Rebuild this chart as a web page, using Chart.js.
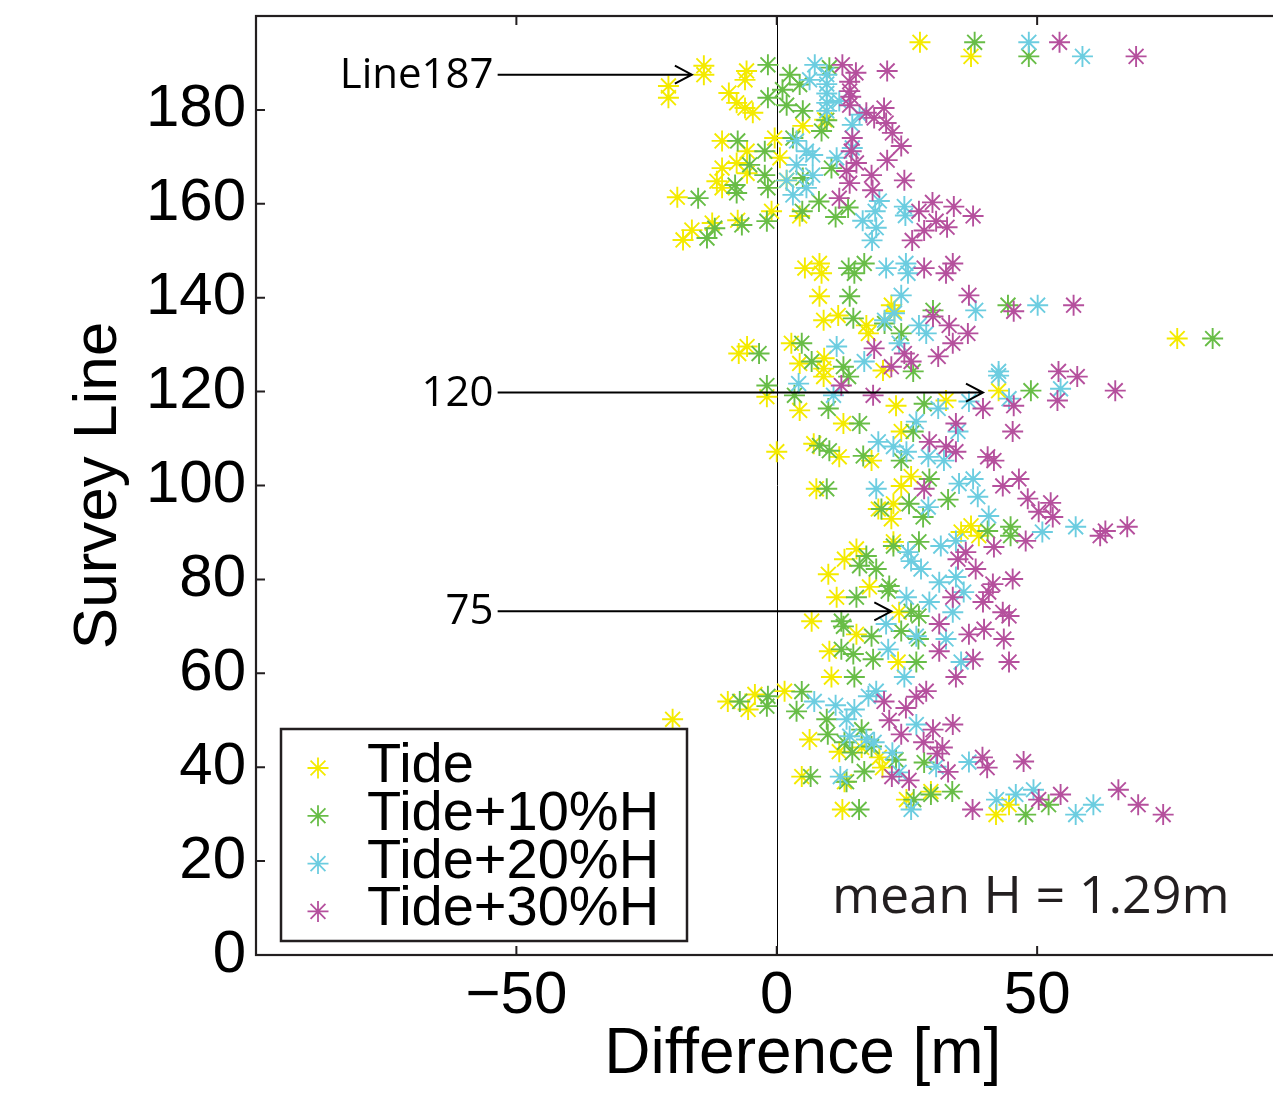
<!DOCTYPE html>
<html>
<head>
<meta charset="utf-8">
<script src="https://cdn.jsdelivr.net/npm/chart.js@4.4.0/dist/chart.umd.min.js"></script>
<style>
  html, body { margin: 0; padding: 0; background: #fff; overflow: hidden; }
  canvas { display: block; }
</style>
</head>
<body>
<canvas id="surveyChart" width="1362" height="1094"></canvas>
<script>
// Difference [m] vs survey line, one array per tide correction
const seriesNames = ['Tide', 'Tide+10%H', 'Tide+20%H', 'Tide+30%H'];
const seriesColors = ['#f4ea00', '#68bd47', '#6ccde0', '#b5509d'];

const tide = [
  [27.5,194.4],[37.3,191.4],
  [-14,189.4],[-14,187.5],[-20.8,185.1],[-20.8,182.6],
  [-5.8,188.3],[-6.1,186.4],[-9.2,183.6],[-7.7,181.5],[-6.1,180.4],[-4.6,179.4],
  [-10.5,173.4],[-0.4,174],[-5.7,171.2],[-7.7,168.7],[-10.5,167.6],[-5.7,166.5],[-11.5,164.8],[-10.5,163.4],
  [-19.1,161.4],[0.6,169.8],[-1,158.4],[-7.5,156.5],[-16.3,154.4],[-18,152.3],[-12.4,155.9],[1.9,165],
  [5,176.6],[4.4,157.4],[9.2,177.9],
  [5.4,146.3],[8.2,147.3],[8.6,145.2],[8.2,140.3],[9,135.2],[11.8,136.2],[17.2,134.1],[17.6,132.4],
  [22,138.4],[22.6,137.1],[2.8,130.3],[4.4,126],[9.1,127.1],[9,123.2],[9,124.9],[20.4,124.5],[4.4,116],
  [22.9,117],[32.5,118.1],[42.6,120.2],[12.8,113.2],[23.9,111.5],[7.1,108.9],[12,106.1],[18.2,105.3],
  [7.6,99.3],[23.9,99.9],[25.8,101.9],[76.9,131.3],[0,107.2],[-7.3,128.1],[-5.7,129.6],[-1.9,118.9],
  [19.5,95],[22,92.9],[22.4,96.1],[37.3,91.4],[35.4,90.1],[38.8,89.3],[22.4,88],[13,84.3],[15.3,86.5],
  [9.9,81.1],[17.8,78.4],[11.5,76.2],[23.5,73],[6.7,71.1],[15.3,68.3],[10.1,64.7],[23.3,62.4],[10.5,59.2],[1.5,56.2],
  [-9.4,54],[-4.2,55.5],[-5.5,52.3],[6.3,45.9],[12,43.3],[16.3,44.2],[19.7,42.1],[20.3,39.9],[4.8,38],
  [13,36.9],[29.6,34.8],[24.9,33.1],[12.6,31],[42.1,29.9],[44.6,32],[-20,50.2]
];

const tide10 = [
  [38,194.4],[48.4,191.4],
  [-1.7,189.6],[-1.7,182.6],[2.5,187.5],[4.4,185.4],[1.1,184.3],[1.9,181],[5,179.8],[10.1,189],[9.6,177.8],
  [8.6,175.5],[-7.5,173.4],[-2.3,171.2],[-5.2,168.3],[-2.3,166.1],[-8,164],[-7.7,162.3],[-1.7,163.4],
  [-15.1,161.2],[-11.9,154.8],[-13.4,152.7],[-6.7,155.5],[-1.9,156.3],[5,165.5],[4.9,158.4],[8.1,160.5],
  [11.3,157.2],[13.7,159.2],[3.1,174],[10.5,167.6],
  [13.8,146.3],[16.8,147.3],[14.9,145.2],[14,140.3],[14.7,135.6],[20.7,134.5],[23.9,132.4],[30,137.3],
  [44.4,138.4],[4.8,130.3],[6.7,126.4],[12.8,125.3],[13.8,123.2],[26.2,124.3],[3.4,119.2],[9.9,116.4],
  [28.3,117.4],[48.8,120.2],[15.9,113.2],[26.2,111.5],[8.2,108.5],[10.1,107.4],[16.6,106.3],[23.9,105.3],
  [9.6,99.3],[29.3,101.4],[32.9,97],[83.7,131.3],[-1.9,121.3],[-3.4,128.1],
  [20.1,95],[25.4,96.1],[28.1,93.3],[44.9,91.2],[44.9,89.3],[40.5,90.3],[22.4,87.1],[27.3,88],[17.2,85],
  [15.9,82.9],[19.1,82.2],[21.6,78.6],[21.4,77.5],[15.3,76.2],[25.8,73.2],[27.3,72.2],[12.4,71.1],[12.8,70],
  [18.2,67.9],[23.9,69],[27.2,67.3],[12.4,65.1],[14.7,64.1],[18.5,63],[26.8,62.4],[14.9,59.2],[4.8,56.1],
  [-7.1,54],[-1.7,55.1],[-1.9,53],[3.8,51.9],[9.6,50.2],[9.8,47],[16.3,48],[13,45.3],[14.5,43.1],[18.2,44.4],
  [22.9,41.6],[6.5,38],[13.4,36.9],[16.8,39.1],[28.3,41],[29.6,34.2],[33.7,34.8],[26.3,33.1],[15.8,31],
  [52.2,32],[47.8,29.9]
];

const tide20 = [
  [48.4,194.4],[58.7,191.4],
  [7.3,189.6],[9.6,187.5],[9.6,185.5],[9.6,183.5],[9.6,181.5],[9.6,179.8],[6.3,186.4],[12,181.9],[14.5,176.8],
  [3.8,173.4],[5.7,171.2],[6.9,170.4],[3.8,168.3],[11.5,169.8],[1.9,165],[3.1,161.9],[5.7,163.4],[6.9,166.1],
  [19.7,160.6],[24.5,159.4],[24.7,157.5],[18.9,158.4],[16.5,156.4],[19.1,154.9],[18.3,152.2],[14.5,171.9],[15.9,179],
  [21,146.3],[24.8,147.3],[25.2,145.2],[23.9,140.5],[38.2,137.3],[50.1,138.4],[20.7,135.2],[22.6,136.7],
  [27.3,134.1],[28.7,132.4],[11.5,129.6],[16.8,126.4],[23.5,130.3],[42.6,124.3],[42.6,123.4],[4.2,121.7],
  [10.9,119.2],[54.5,120.6],[44.6,118.5],[36.9,117.9],[31,116.4],[26.8,113.6],[34.8,111.5],[19.5,109.3],
  [22.4,108.3],[24.9,107.2],[29.1,106.1],[32.1,105.3],[19.1,99.3],[35,100.4],[37.7,101.4],[38.6,97.6],
  [29.1,95.4],[40.7,93.5],[51,90.1],[57.4,91.2],[31.5,87.1],[34.4,88.2],[25.2,85.8],[25.8,83.9],[27.7,82.2],
  [31.2,79.4],[34.4,80.5],[35.9,77.3],[24.9,76.2],[29.3,75.2],[33.8,73],[21,70.5],[26.8,67.9],[32.5,67.3],
  [21.4,65.1],[35.4,62.4],[24.5,59.2],
  [7.2,54],[11.3,53.2],[14.9,52.3],[17.6,55.1],[19.1,56.2],[13.4,50.2],[14,46.6],[17.2,45.9],[18.7,45.3],
  [26.8,49.1],[22.2,43.1],[23.5,38.9],[30.6,40.1],[36.9,41.1],[12.2,38],[25.8,31],[42.2,33.1],[57.4,29.9],
  [60.8,32],[49.3,35.2],[45.9,34.2]
];

const tide30 = [
  [54.3,194.4],[69,191.4],
  [12.6,189.6],[15.2,187.9],[21.2,188.3],[14,186],[14,184],[14.2,182.8],[14,181],[17.2,179.4],[18.7,178.3],
  [20.6,180.4],[21,177.2],[22.2,175.1],[23.9,172.3],[14.5,174],[14.3,171.2],[15.3,168.7],[13.4,167],[21.2,169.3],
  [18.2,166.1],[14,164.4],[18.4,162.9],[24.5,165],[12,161.2],[27.3,158.4],[29.9,160.3],[30.6,156.3],[34,159.4],
  [28.3,154.3],[26,152.2],[32.7,155],[37.7,157.4],
  [28.3,146.3],[33.8,147.3],[32.5,145.2],[36.9,140.5],[45.5,137.1],[57,138.4],[30,136],[33.1,134.1],[36.7,132.4],
  [33.8,130.3],[31,127.5],[18.7,129.2],[24.5,128.1],[25.8,126.4],[22,125.3],[12.4,121.3],[54.1,124.3],[57.7,123.2],
  [65,120.2],[18.5,119.2],[39.6,116.4],[45.5,117],[53.9,118.1],[34.4,113.2],[45.3,111.5],[29.3,109.3],[32.5,108.3],
  [34.4,107.2],[40.5,106.1],[41.7,105.3],[43.4,99.9],[46.5,101.4],[48.2,97.2],[52.6,96.3],[28.3,99.3],
  [50.3,94.4],[53,93.3],[62.1,89.3],[63.1,90.3],[67.3,91.2],[41.7,86.9],[47.8,88.2],[36.3,85.8],[34.8,84.3],
  [38.2,82.2],[41.5,79],[45.3,80.1],[40.7,77.3],[33.8,76.2],[39.6,75.2],[43.4,73],[44.6,72.2],[31.2,70.5],
  [36.9,68.3],[39.8,69.4],[43.6,67.3],[31.2,64.7],[37.7,63],[44.6,62.4],[34.4,59.2],[28.7,56.2],[26.8,55],
  [20.6,54],[24.8,52.6],
  [21.6,50],[23.9,47],[30,48],[33.8,49.1],[28.2,45.3],[31.8,44.2],[30.8,42.9],[22.1,38],[25.4,37.2],[32.9,39],
  [39.5,42.1],[40.4,39.9],[37.6,31],[47.4,41.2],[65.6,35.2],[69.4,32],[74.2,29.9],[54.5,34.2],[50.3,33.1]
];

const seriesData = [tide, tide10, tide20, tide30];

// axes
const xRange = [-100, 110];
const yRange = [0, 200];
const xTicks = [-50, 0, 50];
const yTicks = [0, 20, 40, 60, 80, 100, 120, 140, 160, 180];
const zeroLineX = 0;

// arrow annotations
const arrowLabels = ['Line187', '120', '75'];
const arrowY = [187.5, 119.8, 73.2];
const arrowFromX = [-53.6, -53.6, -53.6];
const arrowToX = [-16.3, 39.6, 22];

const noteText = 'mean H = 1.29m';
const noteX = 10.6;
const noteY = 8.9;

const mainFont = '"Liberation Sans", Arial, Helvetica, sans-serif';
const noteFont = '"Open Sans", "Noto Sans", sans-serif';

const decorations = {
  id: 'decorations',
  beforeDatasetsDraw(chart) {
    const {ctx, chartArea: a, scales: {x}} = chart;
    const px = Math.round(x.getPixelForValue(zeroLineX)) + 0.5;
    ctx.save();
    ctx.strokeStyle = '#000';
    ctx.lineWidth = 1;
    ctx.beginPath();
    ctx.moveTo(px, a.top);
    ctx.lineTo(px, a.bottom);
    ctx.stroke();
    ctx.restore();
  },
  afterDatasetsDraw(chart) {
    const {ctx, chartArea: a, scales: {x, y}} = chart;
    ctx.save();

    // box + inward ticks (matlab style)
    ctx.strokeStyle = '#231f20';
    ctx.lineWidth = 2.2;
    ctx.strokeRect(a.left, a.top, a.right - a.left, a.bottom - a.top);
    ctx.lineWidth = 2;
    ctx.beginPath();
    xTicks.forEach(v => {
      const p = x.getPixelForValue(v);
      ctx.moveTo(p, a.bottom); ctx.lineTo(p, a.bottom - 9);
      ctx.moveTo(p, a.top); ctx.lineTo(p, a.top + 9);
    });
    yTicks.forEach(v => {
      const p = y.getPixelForValue(v);
      ctx.moveTo(a.left, p); ctx.lineTo(a.left + 9, p);
      ctx.moveTo(a.right, p); ctx.lineTo(a.right - 9, p);
    });
    ctx.stroke();

    // arrows with labels
    ctx.strokeStyle = '#000';
    ctx.fillStyle = '#000';
    ctx.lineWidth = 2;
    ctx.font = '42px ' + noteFont;
    ctx.textAlign = 'right';
    ctx.textBaseline = 'middle';
    arrowLabels.forEach((t, i) => {
      const py = y.getPixelForValue(arrowY[i]);
      const x0 = x.getPixelForValue(arrowFromX[i]);
      const x1 = x.getPixelForValue(arrowToX[i]);
      ctx.beginPath();
      ctx.moveTo(x0, py); ctx.lineTo(x1, py);
      ctx.moveTo(x1 - 17, py - 9); ctx.lineTo(x1, py); ctx.lineTo(x1 - 17, py + 9);
      ctx.stroke();
      ctx.fillText(t, x0 - 4, py + 1);
    });

    // mean H note
    ctx.fillStyle = '#231f20';
    ctx.font = '52px ' + noteFont;
    ctx.textAlign = 'left';
    ctx.textBaseline = 'alphabetic';
    ctx.fillText(noteText, x.getPixelForValue(noteX), y.getPixelForValue(noteY));

    // legend box inside the axes, lower left
    const bx = a.left + 25, bw = 406, bh = 212;
    const by = a.bottom - 14 - bh;
    ctx.fillStyle = '#fff';
    ctx.fillRect(bx, by, bw, bh);
    ctx.strokeStyle = '#231f20';
    ctx.lineWidth = 2.5;
    ctx.strokeRect(bx, by, bw, bh);
    ctx.font = '56px ' + mainFont;
    seriesNames.forEach((name, i) => {
      const my = by + 39 + i * 47.8;
      ctx.strokeStyle = seriesColors[i];
      ctx.fillStyle = seriesColors[i];
      ctx.lineWidth = 1.8;
      Chart.helpers.drawPoint(ctx, {pointStyle: 'star', radius: 10.5, borderWidth: 1.8, rotation: 0}, bx + 37, my);
      ctx.fillStyle = '#000';
      ctx.fillText(name, bx + 86, my + 14);
    });

    ctx.restore();
  }
};

const ctx = document.getElementById('surveyChart').getContext('2d');
const surveyChart = new Chart(ctx, {
  type: 'scatter',
  data: {
    datasets: seriesData.map((pts, i) => ({
      label: seriesNames[i],
      data: pts.map(p => ({x: p[0], y: p[1]})),
      pointStyle: 'star',
      pointRadius: 10.5,
      pointHoverRadius: 10.5,
      pointBorderWidth: 1.9,
      borderColor: seriesColors[i],
      backgroundColor: seriesColors[i],
      order: seriesData.length - i  // later series on top
    }))
  },
  options: {
    responsive: false,
    animation: false,
    devicePixelRatio: 1,
    layout: { padding: { top: 16, left: 0, right: 0, bottom: 0 } },
    plugins: {
      legend: { display: false },
      tooltip: { enabled: false }
    },
    scales: {
      x: {
        type: 'linear',
        min: xRange[0],
        max: xRange[1],
        afterBuildTicks: s => { s.ticks = xTicks.map(v => ({value: v})); },
        afterFit: s => { s.height = 139; s.paddingLeft = 0; s.paddingRight = 0; },
        grid: { display: false, drawTicks: false },
        border: { display: false },
        ticks: {
          color: '#000',
          padding: 5,
          maxRotation: 0,
          font: { family: mainFont, size: 60 },
          callback: v => (v < 0 ? '\u2212' + Math.abs(v) : String(v))
        },
        title: {
          display: true,
          text: 'Difference [m]',
          color: '#000',
          font: { family: mainFont, size: 64 },
          padding: { top: 0, bottom: 0 }
        }
      },
      y: {
        type: 'linear',
        min: yRange[0],
        max: yRange[1],
        afterBuildTicks: s => { s.ticks = yTicks.map(v => ({value: v})); },
        afterFit: s => { s.width = 256; s.paddingTop = 0; s.paddingBottom = 0; },
        grid: { display: false, drawTicks: false },
        border: { display: false },
        ticks: {
          color: '#000',
          padding: 10,
          font: { family: mainFont, size: 60 }
        },
        title: {
          display: true,
          text: 'Survey Line',
          color: '#000',
          font: { family: mainFont, size: 62 },
          padding: { top: 62, bottom: 0 }
        }
      }
    }
  },
  plugins: [decorations]
});
</script>
</body>
</html>
